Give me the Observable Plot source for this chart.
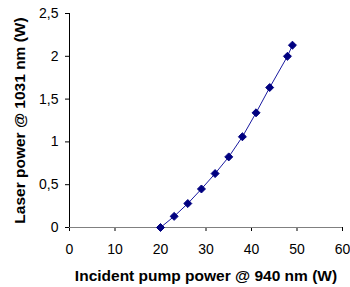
<!DOCTYPE html>
<html>
<head>
<meta charset="utf-8">
<script src="https://cdn.jsdelivr.net/npm/d3@7"></script>
<script src="https://cdn.jsdelivr.net/npm/@observablehq/plot@0.6"></script>
<style>
  html, body { margin: 0; padding: 0; background: #fff; }
  g[aria-label="x-axis label"] text, g[aria-label="y-axis label"] text { font-weight: bold; font-size: 15.5px; }
</style>
</head>
<body>
<div id="chart"></div>
<script>
const pumpPower = [20, 23, 26, 29, 32, 35, 38, 41, 44, 47.9, 49];
const laserPower = [0, 0.13, 0.28, 0.45, 0.63, 0.825, 1.06, 1.34, 1.635, 2.0, 2.13];
const xTicks = [0, 10, 20, 30, 40, 50, 60];
const yTicks = [0, 0.5, 1, 1.5, 2, 2.5];
const xLabel = "Incident pump power @ 940 nm (W)";
const yLabel = "Laser power @ 1031 nm (W)";

const data = pumpPower.map((p, i) => ({p, l: laserPower[i]}));

const chart = Plot.plot({
  width: 350,
  height: 287,
  marginLeft: 69,
  marginRight: 8,
  marginTop: 13,
  marginBottom: 60,
  style: {fontFamily: "Liberation Sans, Arial, sans-serif", fontSize: "14px", color: "#000", background: "#fff"},
  x: {domain: [0, 60], ticks: xTicks, tickSize: 4, tickPadding: 13, label: xLabel, labelAnchor: "center", labelArrow: "none", labelOffset: 53, line: false},
  y: {domain: [0, 2.5], ticks: yTicks, tickSize: 4, tickPadding: 7, tickFormat: d => String(d).replace(".", ","), label: yLabel, labelAnchor: "center", labelArrow: "none", labelOffset: 56},
  marks: [
    Plot.ruleX([0], {stroke: "#000"}),
    Plot.ruleY([0], {stroke: "#808080"}),
    Plot.line(data, {x: "p", y: "l", stroke: "#1a1aa0", strokeWidth: 1}),
    Plot.dot(data, {x: "p", y: "l", symbol: "diamond2", fill: "#000080", stroke: "#000080", strokeWidth: 1, r: 3.6})
  ]
});
document.getElementById("chart").appendChild(chart);
</script>
</body>
</html>
